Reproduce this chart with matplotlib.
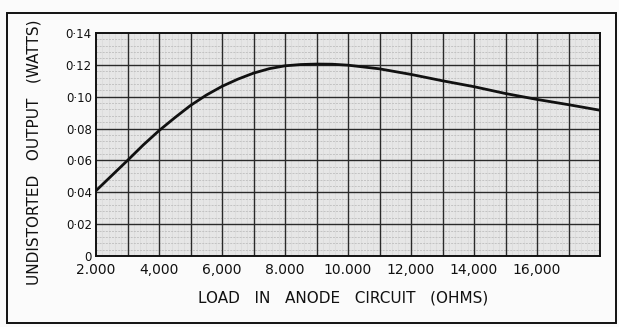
import numpy as np
import matplotlib
matplotlib.use('Agg')
import matplotlib.pyplot as plt
from matplotlib.patches import Rectangle

matplotlib.rcParams.update({'font.family': 'DejaVu Sans'})

# Load resistance (ohms) and undistorted output (watts)
load = [2000, 2500, 3000, 3500, 4000, 4500, 5000, 5500, 6000, 6500,
        7000, 7500, 8000, 8500, 9000, 9500, 10000,
        11000, 12000, 13000, 14000, 15000, 16000, 17000, 18000]
output = [0.041, 0.0505, 0.060, 0.0697, 0.0787, 0.0868, 0.0945, 0.101,
          0.1065, 0.111, 0.1148, 0.1176, 0.1194, 0.1202, 0.1205, 0.1204,
          0.1198, 0.1175, 0.114, 0.110, 0.1063, 0.102, 0.0983, 0.095,
          0.0915]

xticks = [2000, 4000, 6000, 8000, 10000, 12000, 14000, 16000]
xlabels = ['2.000', '4,000', '6,000', '8.000', '10.000', '12,000',
           '14,000', '16,000']
yticks = [0, 0.02, 0.04, 0.06, 0.08, 0.10, 0.12, 0.14]
ylabels = ['0', '0·02', '0·04', '0·06', '0·08', '0·10', '0·12', '0·14']

fig = plt.figure(figsize=(6.19, 3.27), dpi=100)
fig.patch.set_facecolor('#fbfbfb')
ax = fig.add_axes([96 / 619, 1 - 256 / 327, 504 / 619, 223 / 327])
ax.set_facecolor('#e6e6e6')

# graph paper: fine rulings plus the heavy 1000 ohm / 0.02 W squares
for x in np.arange(2000, 18001, 200):
    ax.axvline(x, color='#d6d6d6', lw=0.4, zorder=1)
for y in np.arange(0, 0.1401, 0.004):
    ax.axhline(y, color='#c2c2c2', lw=0.7, ls=(0, (2, 1.2)), zorder=1)
for x in range(3000, 18000, 1000):
    ax.axvline(x, color='#2a2a2a', lw=1.0, zorder=2)
for y in yticks[1:-1]:
    ax.axhline(y, color='#2a2a2a', lw=1.0, zorder=2)

ax.plot(load, output, color='#111111', lw=2.0, zorder=3,
        solid_capstyle='round', solid_joinstyle='round')

ax.set_xlim(2000, 18000)
ax.set_ylim(0, 0.14)
ax.set_xticks(xticks)
ax.set_xticklabels(xlabels, fontsize=10)
ax.set_yticks(yticks)
ax.set_yticklabels(ylabels, fontsize=8.5)
ax.tick_params(length=0, pad=3, colors='#111111')
ax.tick_params(axis='x', pad=5)
for s in ax.spines.values():
    s.set_linewidth(1.4)
    s.set_color('#111111')

fig.text(343 / 619, 1 - 298 / 327, 'LOAD   IN   ANODE   CIRCUIT   (OHMS)',
         ha='center', va='center', fontsize=11, color='#111111')
fig.text(34 / 619, 1 - 152 / 327, 'UNDISTORTED   OUTPUT   (WATTS)',
         ha='center', va='center', rotation=90, fontsize=11,
         color='#111111')

# outer frame round the figure
fig.patches.append(Rectangle((7 / 619, 1 - 323 / 327), 609 / 619,
                             310 / 327, transform=fig.transFigure,
                             fill=False, lw=1.4, ec='#111111'))

fig.savefig('out.png', dpi=100, facecolor=fig.get_facecolor())
